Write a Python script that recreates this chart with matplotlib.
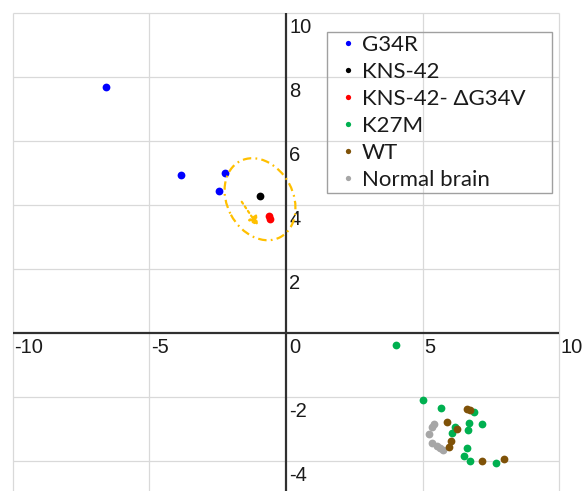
import matplotlib
matplotlib.use("Agg")
import matplotlib.pyplot as plt
from matplotlib.patches import Ellipse, Rectangle
from matplotlib.lines import Line2D
from matplotlib.transforms import ScaledTranslation, offset_copy

# ---------------- data ----------------
series_names = ["G34R", "KNS-42", "KNS-42- \u0394G34V", "K27M", "WT", "Normal brain"]
series_colors = ["#0000ff", "#000000", "#ff0000", "#00b050", "#7f5208", "#a6a6a6"]

g34r_x = [-6.59, -3.84, -2.23, -2.44]
g34r_y = [7.71, 4.95, 5.00, 4.46]

kns42_x = [-0.95]
kns42_y = [4.29]

kns42_dg34v_x = [-0.63, -0.57]
kns42_dg34v_y = [3.68, 3.56]

k27m_x = [4.04, 5.00, 5.66, 6.88, 6.71, 7.16, 6.18, 6.08, 6.65, 6.63, 6.52, 6.73, 7.68]
k27m_y = [-0.37, -2.08, -2.34, -2.45, -2.81, -2.84, -2.94, -3.13, -3.02, -3.58, -3.83, -3.98, -4.04]

wt_x = [6.64, 6.73, 5.90, 6.25, 6.02, 5.95, 7.16, 7.99]
wt_y = [-2.37, -2.41, -2.76, -2.99, -3.37, -3.54, -3.99, -3.94]

normal_x = [5.42, 5.33, 5.23, 5.33, 5.51, 5.63, 5.76]
normal_y = [-2.84, -2.92, -3.16, -3.44, -3.52, -3.57, -3.65]

x_ticks = [-10, -5, 0, 5, 10]
y_ticks = [-4, -2, 2, 4, 6, 8, 10]

# highlight ellipse + arrow (annotation)
ell_center = (-0.95, 4.19)
arrow_start = (-1.62, 4.11)
arrow_end = (-1.02, 3.35)

# ---------------- figure ----------------
fig = plt.figure(figsize=(5.82, 4.91), dpi=100)
ax = fig.add_axes([0, 0, 1, 1])
ax.set_xlim(-10.465, 10.83)
ax.set_ylim(-4.928, 10.416)
ax.axis("off")

grid_c = "#d9d9d9"
ax.hlines(y_ticks, -10, 10, color=grid_c, lw=0.9, zorder=0)
ax.vlines([-10, -5, 5, 10], -6, 10, color=grid_c, lw=0.9, zorder=0)
ax.hlines([0], -10, 10, color="#303030", lw=1.6, zorder=1)
ax.vlines([0], -6, 10, color="#303030", lw=1.6, zorder=1)

tick_font = dict(family=["Liberation Sans", "DejaVu Sans"], fontsize=14.5, color="#1a1a1a")
for xv in x_ticks:
    if xv == 0:
        continue
    tr = offset_copy(ax.transData, fig=fig, x=1.5, y=-4.5, units="dots")
    ax.text(xv, 0, str(xv), ha="left", va="top", transform=tr, **tick_font)
for yv in y_ticks + [0]:
    tr = offset_copy(ax.transData, fig=fig, x=3, y=-4.5, units="dots")
    ax.text(0, yv, str(yv), ha="left", va="top", transform=tr, **tick_font)

ms = 5.6
ax.plot(normal_x, normal_y, "o", color=series_colors[5], ms=ms, mew=0, zorder=3)
ax.plot(k27m_x, k27m_y, "o", color=series_colors[3], ms=ms, mew=0, zorder=3)
ax.plot(wt_x, wt_y, "o", color=series_colors[4], ms=ms, mew=0, zorder=3)
ax.plot(g34r_x, g34r_y, "o", color=series_colors[0], ms=ms, mew=0, zorder=3)
ax.plot(kns42_x, kns42_y, "o", color=series_colors[1], ms=ms, mew=0, zorder=3)
ax.plot(kns42_dg34v_x, kns42_dg34v_y, "o", color=series_colors[2], ms=ms, mew=0, zorder=3)

# ellipse (size in inches, placed at data centre)
gold = "#ffc000"
ell = Ellipse((0, 0), 0.86, 0.66, angle=-62,
              transform=fig.dpi_scale_trans + ScaledTranslation(ell_center[0], ell_center[1], ax.transData),
              fill=False, edgecolor=gold, lw=1.6, linestyle=(0, (3.8, 1.9, 0.8, 1.9)), zorder=4)
ax.add_patch(ell)
ax.annotate("", xy=arrow_end, xytext=arrow_start,
            arrowprops=dict(arrowstyle="-|>,head_length=0.55,head_width=0.3",
                            color=gold, lw=1.6, linestyle=(0, (1, 1.5)),
                            shrinkA=0, shrinkB=0), zorder=4)

# legend
handles = [Line2D([], [], ls="none", marker="o", ms=3.8, mew=0, color=c) for c in series_colors]
leg_font = {"family": ["Lato", "DejaVu Sans"], "size": 16}
leg = fig.legend(handles, series_names, loc="upper left",
                 bbox_to_anchor=(340 / 582, 1 - 35 / 491), bbox_transform=fig.transFigure,
                 frameon=False, borderpad=0, borderaxespad=0, handlelength=0.75,
                 handletextpad=0.22, labelspacing=0.315, prop=leg_font)
for t in leg.get_texts():
    t.set_color("#1a1a1a")
fig.patches.append(Rectangle((327 / 582, 1 - 193 / 491), 225 / 582, 161 / 491,
                             transform=fig.transFigure, fill=False,
                             edgecolor="#a0a0a0", lw=1.0, zorder=5))

fig.savefig("out.png", dpi=100)
